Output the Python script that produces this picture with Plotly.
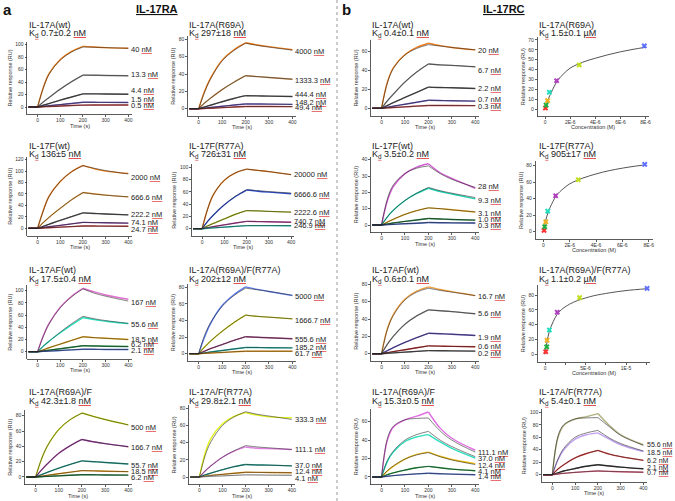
import plotly.graph_objects as go

# ---------------------------------------------------------------- DATA
T = [-40, 0, 25, 50, 100, 150, 200, 250, 300, 400]   # time points (s)

# panel 1  IL-17RA / IL-17A(wt)
P1_NAME, P1_KD, P1_UNIT = "IL-17A(wt)", "0.7±0.2", "nM"
P1_CONC = ["40", "13.3", "4.4", "1.5", "0.5"]
P1_FIT = [[0, 0, 30, 52, 75, 88, 96, 95.5, 95, 94],
          [0, 0, 8, 15, 28.5, 40.5, 51, 50.8, 50.5, 50],
          [0, 0, 2.8, 5.5, 11, 16, 21, 21, 20.8, 20.5],
          [0, 0, 1, 2, 3.8, 5.7, 7.5, 7.5, 7.4, 7.3],
          [0, 0, 0.4, 0.8, 1.5, 2.3, 3, 3.1, 3.1, 3.2]]
P1_OBS = {0: [0, 0, 31, 53, 76, 89, 97, 96, 95, 94]}

# panel 2  IL-17RA / IL-17A(R69A)
P2_NAME, P2_KD, P2_UNIT = "IL-17A(R69A)", "297±18", "nM"
P2_CONC = ["4000", "1333.3", "444.4", "148.2", "49.4"]
P2_FIT = [[0, 0, 19, 34, 55, 67, 75.5, 73, 71, 67.5],
          [0, 0, 6.5, 12, 22, 30.5, 38, 37, 36, 34],
          [0, 0, 2, 4, 8, 11.8, 15, 14.8, 14.5, 14],
          [0, 0, 0.7, 1.4, 2.8, 4.2, 5.5, 5.4, 5.3, 5],
          [0, 0, 0.3, 0.6, 1.2, 1.9, 2.5, 2.5, 2.5, 2.4]]
P2_OBS = {0: [0, 0, 20, 35, 56, 68, 76, 73.5, 71.5, 68]}

# panel 3  IL-17RC / IL-17A(wt)
P3_NAME, P3_KD, P3_UNIT = "IL-17A(wt)", "0.4±0.1", "nM"
P3_CONC = ["20", "6.7", "2.2", "0.7", "0.3"]
P3_FIT = [[0, 0, 27, 42, 56.5, 63.5, 67.5, 66, 64.5, 62],
          [0, 0, 8, 15, 28, 38.5, 47, 46, 45.5, 44],
          [0, 0, 3, 6, 11.5, 17, 22.5, 22, 21.8, 21],
          [0, 0, 1.1, 2.2, 4.3, 6.4, 8.5, 8.2, 8, 7.6],
          [0, 0, 0.4, 0.8, 1.5, 2.3, 3, 3, 2.9, 2.8]]
P3_OBS = {0: [0, 0, 28, 43, 57, 64.5, 69, 66.5, 64.5, 62]}

# panel 4  IL-17RC / IL-17A(R69A)  (steady state)
P4_NAME, P4_KD, P4_UNIT = "IL-17A(R69A)", "1.5±0.1", "µM"
P4_X = [0.03e-6, 0.08e-6, 0.2e-6, 0.34e-6, 0.92e-6, 2.72e-6, 7.9e-6]
P4_Y = [1, 4, 8.5, 17, 28.7, 44.6, 64]
P4_FX = [0, 0.25e-6, 0.5e-6, 1e-6, 1.5e-6, 2e-6, 3e-6, 4e-6, 5e-6, 6e-6, 7e-6, 8e-6]
P4_FY = [0, 10, 17, 29, 36, 41.5, 47.5, 51.5, 55, 58, 60.5, 62.6]

# panel 5  IL-17RA / IL-17F(wt)
P5_NAME, P5_KD, P5_UNIT = "IL-17F(wt)", "136±5", "nM"
P5_CONC = ["2000", "666.6", "222.2", "74.1", "24.7"]
P5_FIT = [[0, 0, 30, 55, 82, 99, 109.5, 105, 101, 95],
          [0, 0, 10, 19, 35, 50, 62.5, 60, 58, 55],
          [0, 0, 3.5, 7, 14, 20.5, 27, 26, 25, 23.5],
          [0, 0, 1.3, 2.6, 5.2, 7.8, 10.3, 10, 9.7, 9],
          [0, 0, 0.5, 1, 2, 3, 4, 3.9, 3.8, 3.5]]
P5_OBS = {0: [0, 0, 31, 56, 82, 99, 110, 104, 100, 96]}

# panel 6  IL-17RA / IL-17F(R77A)
P6_NAME, P6_KD, P6_UNIT = "IL-17F(R77A)", "726±31", "nM"
P6_CONC = ["20000", "6666.6", "2222.6", "740.7", "246.9"]
P6_FIT = [[0, 0, 32, 55, 79, 91, 97, 95, 93, 88],
          [0, 0, 12, 22, 39, 53, 63.5, 62, 60.5, 58],
          [0, 0, 4.5, 8.5, 16, 23.5, 29.5, 29, 28.2, 27],
          [0, 0, 1.7, 3.3, 6.3, 9.2, 12, 11.6, 11.2, 10.5],
          [0, 0, 0.7, 1.3, 2.5, 3.8, 5, 5, 5, 4.9]]
P6_OBS = {1: [0, 0, 12, 22, 39, 52.5, 63, 61, 59.5, 57]}

# panel 7  IL-17RC / IL-17F(wt)
P7_NAME, P7_KD, P7_UNIT = "IL-17F(wt)", "3.5±0.2", "nM"
P7_CONC = ["28", "9.3", "3.1", "1.0", "0.3"]
P7_FIT = [[0, 0, 16, 24.5, 31.5, 34.8, 36.2, 31.5, 28, 23],
          [0, 0, 5, 9, 15, 19.5, 23, 21, 19.5, 16.8],
          [0, 0, 1.8, 3.5, 6.5, 8.8, 10.5, 10, 9.3, 8],
          [0, 0, 0.6, 1.2, 2.2, 3.1, 4, 3.7, 3.4, 3],
          [0, 0, 0.2, 0.4, 0.8, 1.1, 1.5, 1.4, 1.3, 1.2]]
P7_OBS = {0: [0, 0, 15, 23.5, 31.5, 35.5, 37.5, 32, 28.5, 22.5],
          1: [0, 0, 5, 9, 15, 19.3, 22.5, 20.5, 19, 16]}

# panel 8  IL-17RC / IL-17F(R77A)  (steady state)
P8_NAME, P8_KD, P8_UNIT = "IL-17F(R77A)", "905±17", "nM"
P8_X = [0.05e-6, 0.1e-6, 0.18e-6, 0.33e-6, 0.93e-6, 2.65e-6, 7.7e-6]
P8_Y = [1.6, 6, 12, 25, 43.6, 63, 81.6]
P8_FX = [0, 0.25e-6, 0.5e-6, 1e-6, 1.5e-6, 2e-6, 3e-6, 4e-6, 5e-6, 6e-6, 7e-6, 7.8e-6]
P8_FY = [0, 18, 29, 44, 52, 58, 65, 70, 74, 77, 79.5, 81]

# panel 9  IL-17RA / IL-17AF(wt)
P9_NAME, P9_KD, P9_UNIT = "IL-17AF(wt)", "17.5±0.4", "nM"
P9_CONC = ["167", "55.6", "18.5", "6.2", "2.1"]
P9_FIT = [[0, 0, 25, 45, 72, 90, 103, 96, 91, 83],
          [0, 0, 9, 17, 32, 46, 58, 54, 51, 46.5],
          [0, 0, 3, 6.5, 12.5, 18.5, 24.5, 23, 22, 20],
          [0, 0, 1.2, 2.4, 4.9, 7.4, 9.8, 9.4, 9, 8.5],
          [0, 0, 0.5, 1, 2, 3, 4, 3.9, 3.7, 3.5]]
P9_OBS = {0: [0, 0, 26, 46, 73, 91, 104, 98, 93, 86],
          1: [0, 0, 9, 17, 31, 44, 56, 52.5, 50, 46]}

# panel 10  IL-17RA / IL-17A(R69A)/F(R77A)
P10_NAME, P10_KD, P10_UNIT = "IL-17A(R69A)/F(R77A)", "202±12", "nM"
P10_CONC = ["5000", "1666.7", "555.6", "185.2", "61.7"]
P10_FIT = [[0, 0, 22, 37, 57, 70, 79, 77, 75, 70.5],
           [0, 0, 8, 15, 27, 37.5, 46.5, 45, 44, 42],
           [0, 0, 3, 6, 11, 16, 20.5, 19.8, 19.2, 18],
           [0, 0, 1, 2, 3.8, 5.7, 7.5, 7.4, 7.2, 7],
           [0, 0, 0.4, 0.8, 1.5, 2.3, 3, 3, 3, 3]]
P10_OBS = {0: [0, 0, 20, 36, 58, 71, 80.5, 77.5, 75, 70]}

# panel 11  IL-17RC / IL-17AF(wt)
P11_NAME, P11_KD, P11_UNIT = "IL-17AF(wt)", "0.6±0.1", "nM"
P11_CONC = ["16.7", "5.6", "1.9", "0.6", "0.2"]
P11_FIT = [[0, 0, 28, 44, 62, 71, 75.5, 73, 71, 67],
           [0, 0, 11, 20, 34, 43.5, 50.5, 49.5, 48.5, 46],
           [0, 0, 3.5, 7, 13, 18.5, 23.5, 23, 22.5, 21],
           [0, 0, 1.2, 2.4, 4.6, 6.8, 9, 8.7, 8.4, 8],
           [0, 0, 0.5, 0.9, 1.8, 2.7, 3.5, 3.4, 3.2, 3]]
P11_OBS = {0: [0, 0, 29, 45, 63, 72, 77, 74, 71.5, 67]}

# panel 12  IL-17RC / IL-17A(R69A)/F(R77A)  (steady state)
P12_NAME, P12_KD, P12_UNIT = "IL-17A(R69A)/F(R77A)", "1.1±0.2", "µM"
P12_X = [0.08e-6, 0.2e-6, 0.25e-6, 0.53e-6, 1.5e-6, 4.27e-6, 12.6e-6]
P12_Y = [3.5, 10, 19, 32.8, 56.7, 76.4, 89]
P12_FX = [0, 0.25e-6, 0.5e-6, 1e-6, 1.5e-6, 2e-6, 3e-6, 4e-6, 5e-6, 6e-6, 8e-6, 10e-6, 12.6e-6]
P12_FY = [0, 17, 30, 44, 54, 60, 67.5, 72.5, 76, 79, 83, 86, 88.5]

# panel 13  IL-17RA / IL-17A(R69A)/F
P13_NAME, P13_KD, P13_UNIT = "IL-17A(R69A)/F", "42.3±1.8", "nM"
P13_CONC = ["500", "166.7", "55.7", "18.5", "6.2"]
P13_FIT = [[0, 0, 23, 40, 62, 75, 83.5, 79, 75, 68],
           [0, 0, 9, 17, 31, 41, 49, 46, 43.5, 39.5],
           [0, 0, 3, 6, 11.5, 16.5, 21, 20, 19, 17],
           [0, 0, 1.1, 2.2, 4.3, 6.3, 8.3, 8, 7.6, 7],
           [0, 0, 0.4, 0.8, 1.5, 2.3, 3, 2.9, 2.7, 2.5]]
P13_OBS = {}

# panel 14  IL-17RA / IL-17A/F(R77A)
P14_NAME, P14_KD, P14_UNIT = "IL-17A/F(R77A)", "29.8±2.1", "nM"
P14_CONC = ["333.3", "111.1", "37.0", "12.4", "4.1"]
P14_FIT = [[0, 0, 25, 41, 60, 70, 76, 73, 71, 67],
           [0, 0, 7, 13, 23, 30.5, 36.5, 35, 34, 32],
           [0, 0, 2.5, 4.5, 8.5, 12, 14.5, 14, 13.8, 13],
           [0, 0, 1, 1.8, 3.1, 4.3, 5.5, 5.4, 5.2, 5],
           [0, 0, 0.4, 0.8, 1.3, 1.9, 2.5, 2.4, 2.2, 2]]
P14_OBS = {0: [0, 0, 28, 45, 62, 70.5, 75, 72, 70, 69],
           1: [0, 0, 7, 13, 23, 30, 35, 33.5, 33, 32]}

# panel 15  IL-17RC / IL-17A(R69A)/F
P15_NAME, P15_KD, P15_UNIT = "IL-17A(R69A)/F", "15.3±0.5", "nM"
P15_CONC = ["111.1", "37.0", "12.4", "4.1", "1.4"]
P15_FIT = [[0, 0, 42, 55, 62, 63.5, 64, 50, 40, 27],
           [0, 0, 18, 28, 40, 46, 49.5, 40, 33, 22],
           [0, 0, 7, 12, 19.5, 24, 26.5, 22, 18.5, 13.5],
           [0, 0, 2.5, 4.5, 7.5, 10, 11.5, 10, 8.5, 6.8],
           [0, 0, 0.8, 1.5, 2.6, 3.4, 4, 3.5, 3.1, 2.5]]
P15_OBS = {0: [0, 0, 40, 54, 62, 66, 70.5, 53, 42, 29],
           1: [0, 0, 17, 27, 38.5, 43.5, 46, 38, 31, 20.5],
           2: [0, 0, 6.5, 11.5, 19.5, 24.5, 27, 22.5, 19, 14.5]}

# panel 16  IL-17RC / IL-17A/F(R77A)
P16_NAME, P16_KD, P16_UNIT = "IL-17A/F(R77A)", "5.4±0.1", "nM"
P16_CONC = ["55.6", "18.5", "6.2", "2.1", "0.7"]
P16_FIT = [[0, 0, 62, 80, 89.5, 91, 91.5, 77, 63, 47],
           [0, 0, 25, 42, 60, 67, 71, 59, 50, 38],
           [0, 0, 9, 16, 27, 34, 39, 33, 29, 23],
           [0, 0, 3, 6, 10, 13.5, 16, 14, 12.2, 9.5],
           [0, 0, 1.2, 2.2, 3.8, 5, 6, 5.3, 4.8, 4]]
P16_OBS = {0: [0, 0, 60, 79, 89, 93, 98, 79, 64, 48],
           1: [0, 0, 24, 40, 57, 64, 67, 57, 48, 37]}

# ---------------------------------------------------------------- STYLE
C_OR, C_GY, C_DG, C_PU, C_RD = "#f08020", "#8a8a8a", "#555555", "#6a58c0", "#c04040"
SENS_COLORS = {
    1: [C_OR, C_GY, C_DG, C_PU, C_RD],
    2: [C_OR, "#c89050", C_DG, C_PU, C_RD],
    3: [C_OR, C_GY, C_DG, C_PU, C_RD],
    5: [C_OR, "#e8a040", C_DG, "#8040a0", C_RD],
    6: [C_OR, "#3050d0", "#b0c020", "#c040a0", "#20c0b0"],
    7: ["#d060d0", "#20d0b0", "#f0b020", "#208040", "#4060c0"],
    9: ["#e070d0", "#30e0c0", "#f0b020", "#209040", "#5070d0"],
    10: ["#6080f0", "#d0d020", "#a04080", "#20b0a0", "#f0a020"],
    11: ["#f0a040", C_GY, "#6050c0", "#c03030", C_DG],
    13: ["#d0e020", "#a040a0", "#20a090", "#f0a020", "#208040"],
    14: ["#e0f020", "#e080e0", "#20a090", "#f0a020", "#e8e8e8"],
    15: ["#e070e0", "#30e0c0", "#f0c020", "#20a040", "#5070d0"],
    16: ["#b0b080", "#c0a0f0", "#e04040", "#333333", "#e06080"],
}
PT_COLORS = ["#ff3030", "#20b040", "#f0b020", "#20e0c0", "#b040c0", "#c0e020", "#6070ff"]
FIT_COLOR = "#222222"
AX_COLOR = "#333333"
FONT = "Liberation Sans, Arial, sans-serif"
W, H = 675, 501

# ---------------------------------------------------------------- LAYOUT (pixel geometry)
# x0: pixel of x=0, xp: pixels per x unit, y0: pixel of y=0, yp: pixels per y unit
GEOM = {
    1: dict(x0=37.7, xp=0.2275, y0=107.0, yp=0.625, top=100, dt=20),
    2: dict(x0=199.3, xp=0.235, y0=108.7, yp=0.8675, top=80, dt=20),
    3: dict(x0=382.7, xp=0.235, y0=108.3, yp=0.943, top=60, dt=20),
    4: dict(x0=546.7, xp=12.6e6, y0=109.0, yp=0.986, top=70, dt=10),
    5: dict(x0=37.7, xp=0.2275, y0=228.3, yp=0.5717, top=120, dt=20),
    6: dict(x0=202.7, xp=0.2233, y0=228.7, yp=0.614, top=100, dt=20),
    7: dict(x0=382.7, xp=0.235, y0=225.0, yp=1.6325, top=40, dt=10),
    8: dict(x0=545.0, xp=13.2e6, y0=231.7, yp=0.825, top=80, dt=20),
    9: dict(x0=37.7, xp=0.2275, y0=351.7, yp=0.61, top=100, dt=20),
    10: dict(x0=199.3, xp=0.235, y0=353.7, yp=0.83, top=80, dt=20),
    11: dict(x0=382.7, xp=0.235, y0=353.7, yp=0.8675, top=80, dt=20),
    12: dict(x0=546.7, xp=8.12e6, y0=354.3, yp=0.741, top=80, dt=20),
    13: dict(x0=35.7, xp=0.2325, y0=477.0, yp=0.766, top=80, dt=20),
    14: dict(x0=200.0, xp=0.2317, y0=477.0, yp=0.859, top=80, dt=20),
    15: dict(x0=382.7, xp=0.235, y0=477.0, yp=0.922, top=60, dt=20),
    16: dict(x0=554.0, xp=0.2283, y0=474.7, yp=0.624, top=100, dt=20),
}
LABEL_Y = {
    1: [92, 52, 26, 12.6, 2], 2: [65.8, 33, 16, 7.7, 1], 3: [61, 40.6, 21, 9.5, 1.8],
    5: [88.5, 54, 24.5, 10, -1.7], 6: [88.6, 56, 26, 12.5, 4.9], 7: [23.5, 15.3, 7.3, 3.3, -0.6],
    9: [80, 45, 20, 11, 2.7], 10: [69.5, 40.6, 17.3, 7.6, 0.4], 11: [65.8, 45.8, 18.5, 8, 0],
    13: [64.8, 38.3, 14.8, 7.4, -0.9], 14: [66.4, 31.5, 13.2, 6.2, -1.6],
    15: [26.7, 19.9, 13, 6.5, 0.4], 16: [47.6, 34.8, 23, 12.3, 3.2],
}
LABEL_X = {16: 408}
LABEL_SIZE = {16: 7}
TITLE_X = {1: 26.7, 2: 187.7, 3: 371, 4: 539}
TITLE_Y = {1: (25, 33.5), 2: (145.7, 154.3), 3: (269.5, 279), 4: (391.7, 401)}
XTITLE_GAP = 11   # px from x-axis line to centre of x-axis title

SENS = {
    1: (P1_NAME, P1_KD, P1_UNIT, P1_CONC, P1_FIT, P1_OBS),
    2: (P2_NAME, P2_KD, P2_UNIT, P2_CONC, P2_FIT, P2_OBS),
    3: (P3_NAME, P3_KD, P3_UNIT, P3_CONC, P3_FIT, P3_OBS),
    5: (P5_NAME, P5_KD, P5_UNIT, P5_CONC, P5_FIT, P5_OBS),
    6: (P6_NAME, P6_KD, P6_UNIT, P6_CONC, P6_FIT, P6_OBS),
    7: (P7_NAME, P7_KD, P7_UNIT, P7_CONC, P7_FIT, P7_OBS),
    9: (P9_NAME, P9_KD, P9_UNIT, P9_CONC, P9_FIT, P9_OBS),
    10: (P10_NAME, P10_KD, P10_UNIT, P10_CONC, P10_FIT, P10_OBS),
    11: (P11_NAME, P11_KD, P11_UNIT, P11_CONC, P11_FIT, P11_OBS),
    13: (P13_NAME, P13_KD, P13_UNIT, P13_CONC, P13_FIT, P13_OBS),
    14: (P14_NAME, P14_KD, P14_UNIT, P14_CONC, P14_FIT, P14_OBS),
    15: (P15_NAME, P15_KD, P15_UNIT, P15_CONC, P15_FIT, P15_OBS),
    16: (P16_NAME, P16_KD, P16_UNIT, P16_CONC, P16_FIT, P16_OBS),
}
STEADY = {
    4: (P4_NAME, P4_KD, P4_UNIT, P4_X, P4_Y, P4_FX, P4_FY),
    8: (P8_NAME, P8_KD, P8_UNIT, P8_X, P8_Y, P8_FX, P8_FY),
    12: (P12_NAME, P12_KD, P12_UNIT, P12_X, P12_Y, P12_FX, P12_FY),
}


def red_ul(s, col="#222222"):
    return f'<u style="color:#e04040"><span style="color:{col}">{s}</span></u>'


def segments(ts, vs):
    xs, ys = [], []
    n = len(ts)
    for i, (t, v) in enumerate(zip(ts, vs)):
        xs.append(t)
        ys.append(v)
        if t in (0, 200) and 0 < i < n - 1:
            xs += [None, t]
            ys += [None, v]
    return xs, ys


fig = go.Figure()
layout = dict(width=W, height=H, margin=dict(l=0, r=0, t=0, b=0),
              paper_bgcolor="white", plot_bgcolor="rgba(0,0,0,0)",
              showlegend=False, font=dict(family=FONT, color="#222222"))
annotations = []


def add_axes(k, xlo, xhi, ymax, xtitle, xticks):
    g = GEOM[k]
    ylo = -7.5 / g["yp"]
    yhi = max(g["top"], ymax) + 3 / g["yp"]
    xl, xr = g["x0"] + xlo * g["xp"], g["x0"] + xhi * g["xp"]
    xd = [xl / W, xr / W]
    ybot = g["y0"] - ylo * g["yp"]
    ytop = g["y0"] - yhi * g["yp"]
    yd = [1 - ybot / H, 1 - ytop / H]
    axc = dict(showline=True, linecolor=AX_COLOR, linewidth=0.8, ticks="outside",
               ticklen=2, tickwidth=0.8, tickcolor=AX_COLOR, showgrid=False,
               zeroline=False, tickfont=dict(size=5, color=AX_COLOR, family=FONT))
    sfx = "" if k == 1 else str(k)
    layout["xaxis" + sfx] = dict(axc, domain=xd, range=[xlo, xhi], anchor="y" + sfx,
                                 tickvals=xticks[0], ticktext=xticks[1],
                                 ticklabelstandoff=-1)
    layout["yaxis" + sfx] = dict(axc, domain=yd, range=[ylo, yhi], anchor="x" + sfx,
                                 tickvals=list(range(0, g["top"] + 1, g["dt"])),
                                 title=dict(text="Relative response (RU)",
                                            font=dict(size=5.5, color=AX_COLOR), standoff=2))
    annotations.append(dict(text=xtitle, x=(xl + xr) / 2 / W, y=1 - (ybot + XTITLE_GAP) / H,
                            xref="paper", yref="paper", xanchor="center", yanchor="middle",
                            showarrow=False, borderpad=0,
                            font=dict(size=5.5, color=AX_COLOR)))
    return "x" + sfx, "y" + sfx


def add_titles(k, name, kd, unit):
    row = (k - 1) // 4 + 1
    col = (k - 1) % 4 + 1
    x = TITLE_X[col] / W
    y1, y2 = TITLE_Y[row]
    annotations.append(dict(text=name, x=x, y=1 - y1 / H, xref="paper", yref="paper",
                            xanchor="left", yanchor="middle", showarrow=False,
                            font=dict(size=9, color="#222222")))
    annotations.append(dict(text=f"K<sub>{red_ul('d')}</sub> {kd} {red_ul(unit)}",
                            x=x, y=1 - y2 / H, xref="paper", yref="paper",
                            xanchor="left", yanchor="middle", showarrow=False,
                            font=dict(size=9, color="#222222")))


time_ticks = ([0, 100, 200, 300, 400], ["0", "100", "200", "300", "400"])

for k, (name, kd, unit, concs, fits, obs) in SENS.items():
    ymax = max(max(f) for f in fits + list(obs.values()))
    xa, ya = add_axes(k, -45, 415, ymax, "Time (s)", time_ticks)
    cols = SENS_COLORS[k]
    for i, f in enumerate(fits):
        o = obs.get(i, f)
        xs, ys = segments(T, o)
        fig.add_trace(go.Scatter(x=xs, y=ys, mode="lines", xaxis=xa, yaxis=ya,
                                 line=dict(color=cols[i], width=1.4, shape="spline"),
                                 hoverinfo="skip"))
    for i, f in enumerate(fits):
        xs, ys = segments(T, f)
        fig.add_trace(go.Scatter(x=xs, y=ys, mode="lines", xaxis=xa, yaxis=ya,
                                 line=dict(color=FIT_COLOR, width=0.7, shape="spline"),
                                 opacity=0.8, hoverinfo="skip"))
    for i, c in enumerate(concs):
        annotations.append(dict(text=f"{c} {red_ul('nM')}", x=LABEL_X.get(k, 403),
                                y=LABEL_Y[k][i], xref=xa, yref=ya, xanchor="left",
                                yanchor="middle", showarrow=False,
                                font=dict(size=LABEL_SIZE.get(k, 7.5), color="#222222")))
    add_titles(k, name, kd, unit)

for k, (name, kd, unit, xs, ys, fx, fy) in STEADY.items():
    if k == 12:
        ticks = ([0, 2.5e-6, 5e-6, 7.5e-6, 1e-5, 1.25e-5], ["0", "", "5E-6", "", "1E-5", ""])
        xlo, xhi = -0.9e-6, 12.9e-6
    else:
        ticks = ([0, 2e-6, 4e-6, 6e-6, 8e-6], ["0", "2E-6", "4E-6", "6E-6", "8E-6"])
        xlo, xhi = -0.6e-6, 8.3e-6
    xa, ya = add_axes(k, xlo, xhi, max(ys), "Concentration (M)", ticks)
    fig.add_trace(go.Scatter(x=fx, y=fy, mode="lines", xaxis=xa, yaxis=ya,
                             line=dict(color="#555555", width=1, shape="spline"),
                             hoverinfo="skip"))
    fig.add_trace(go.Scatter(x=xs, y=ys, mode="markers", xaxis=xa, yaxis=ya,
                             marker=dict(symbol="x", size=5, color=PT_COLORS,
                                         line=dict(width=0)),
                             hoverinfo="skip", cliponaxis=False))
    add_titles(k, name, kd, unit)

# headers
annotations += [
    dict(text="<b>a</b>", x=1 / W, y=1 - 10 / H, xref="paper", yref="paper", xanchor="left",
         yanchor="middle", showarrow=False, font=dict(size=15, color="#111111")),
    dict(text="<b>b</b>", x=341 / W, y=1 - 10 / H, xref="paper", yref="paper", xanchor="left",
         yanchor="middle", showarrow=False, font=dict(size=15, color="#111111")),
    dict(text="<b><u>IL-17RA</u></b>", x=157.5 / W, y=1 - 8.5 / H, xref="paper", yref="paper",
         xanchor="center", yanchor="middle", showarrow=False, font=dict(size=11, color="#111111")),
    dict(text="<b><u>IL-17RC</u></b>", x=505 / W, y=1 - 8.5 / H, xref="paper", yref="paper",
         xanchor="center", yanchor="middle", showarrow=False, font=dict(size=11, color="#111111")),
]
layout["annotations"] = annotations
layout["shapes"] = [dict(type="line", xref="paper", yref="paper", x0=338 / W, x1=338 / W,
                         y0=0, y1=1, line=dict(color="#999999", width=1, dash="dot"))]
fig.update_layout(**layout)
fig.write_html("out.html", config={"displayModeBar": False, "staticPlot": True},
               post_script="document.body.style.margin='0';document.body.style.overflow='hidden';")
